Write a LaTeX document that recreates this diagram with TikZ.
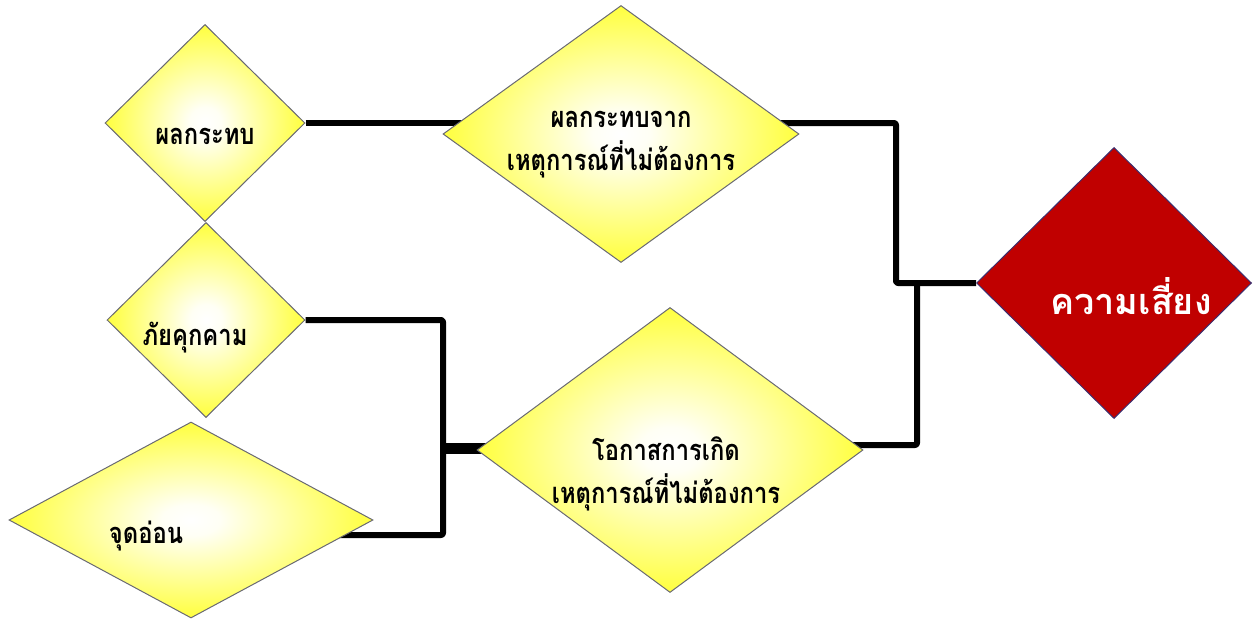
\documentclass[tikz,border=0pt]{standalone}
\usepackage{fontspec}
\newfontfamily\thai[Script=Thai]{Loma}
\newfontfamily\thainarrow[Script=Thai,FakeStretch=0.82]{Loma}
\usetikzlibrary{shapes.geometric,backgrounds,calc}
\pgfdeclareradialshading{diashade}{\pgfpoint{0bp}{0bp}}{rgb(0bp)=(1,1,1); rgb(4bp)=(1,1,0.96); rgb(31bp)=(1,1,0.04); rgb(50bp)=(1,1,0)}
\definecolor{diaedge}{RGB}{105,105,115}
\definecolor{riskred}{RGB}{192,0,0}
\definecolor{riskedge}{RGB}{60,45,110}
\begin{document}
\begin{tikzpicture}[x=1pt,y=-1pt,
  dia/.style={diamond, draw=diaedge, line width=1pt, shading=diashade, inner sep=0pt},
  reddia/.style={diamond, draw=riskedge, line width=1pt, fill=riskred, inner sep=0pt},
  lbl/.style={font=\thainarrow\bfseries\fontsize{29}{43}\selectfont, align=center, inner sep=0pt},
  risklbl/.style={font=\thai\bfseries\fontsize{36}{44}\selectfont, text=white, inner sep=0pt},
  conn/.style={line width=6pt, draw=black, line join=round, rounded corners=2pt},
  thickconn/.style={line width=11pt, draw=black}]
\useasboundingbox (0,0) rectangle (1258,621);
\node[dia, minimum width=200pt, minimum height=197pt] (d1) at (205,123) {};
\node[dia, minimum width=198pt, minimum height=195pt] (d2) at (206,320) {};
\node[dia, minimum width=364pt, minimum height=196pt] (d3) at (191,520) {};
\node[dia, minimum width=356pt, minimum height=257pt] (d4) at (621,134) {};
\node[dia, minimum width=386pt, minimum height=285pt] (d5) at (670,450) {};
\node[reddia, minimum width=275pt, minimum height=271pt] (r) at (1114,283) {};
\node[lbl] (t1) at (205,136) {ผลกระทบ};
\node[lbl] (t2) at (195,338) {ภัยคุกคาม};
\node[lbl] (t3) at (146,536) {จุดอ่อน};
\node[lbl] (t4) at (621,145) {ผลกระทบจาก\\เหตุการณ์ที่ไม่ต้องการ};
\node[lbl] (t5) at (666,474) {โอกาสการเกิด\\เหตุการณ์ที่ไม่ต้องการ};
\node[risklbl] (t6) at (1131,296) {ความเสี่ยง};
\coordinate (jA) at (896,123);
\coordinate (jB) at (917,282);
\coordinate (jC) at (443,448);
\coordinate (jD) at (443,535);
\begin{scope}[on background layer]
\draw[conn] (d1.east) -- (d4.center |- d1.east);
\draw[conn] (d4.center |- d1.east) -- (jA) |- (r.west);
\draw[conn] (jB) |- ($(d5.center)+(0,-5)$);
\draw[conn] (d2.east) -| (jC);
\draw[conn] (d3.center |- jD) -- (jD) -- (jC);
\draw[thickconn] (jC) -- (d5.center |- jC);
\end{scope}
\end{tikzpicture}
\end{document}
